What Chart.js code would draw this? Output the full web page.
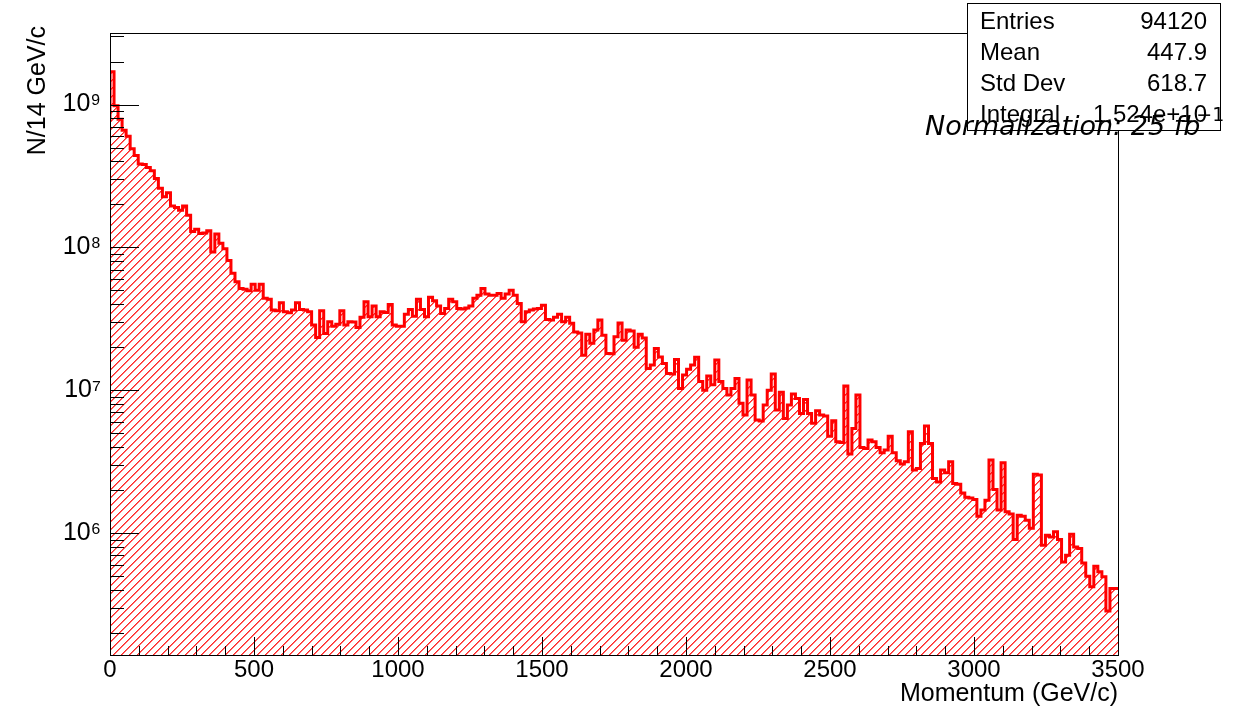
<!DOCTYPE html>
<html><head><meta charset="utf-8">
<script src="https://cdn.jsdelivr.net/npm/chart.js@4.4.0/dist/chart.umd.min.js"></script>
<style>html,body{margin:0;padding:0;background:#fff;overflow:hidden}canvas{display:block}</style>
</head><body>
<canvas id="c" width="1237" height="712"></canvas>
<script>
// ---- data ----
const binWidth = 14;          // GeV/c per bin
const xMin = 0, xMax = 3500;
const yMin = 1.4e5, yMax = 3.17e9;
const counts = [
 7.6e8,1.70e9,9.8e8,7.9e8,6.6e8,6.0e8,4.9e8,4.4e8,3.83e8,3.8e8,
 3.63e8,3.44e8,3.04e8,2.59e8,2.26e8,2.41e8,1.95e8,1.9e8,1.82e8,1.95e8,
 1.68e8,1.29e8,1.34e8,1.25e8,1.26e8,1.31e8,9.3e7,1.24e8,1.07e8,9.8e7,
 8.1e7,6.58e7,5.74e7,5.16e7,5.1e7,4.97e7,5.53e7,5.02e7,5.53e7,4.40e7,
 4.33e7,3.64e7,3.6e7,4.09e7,3.54e7,3.48e7,3.64e7,4.09e7,3.68e7,3.64e7,
 3.54e7,2.86e7,2.34e7,3.60e7,2.50e7,3.01e7,2.81e7,2.90e7,3.60e7,2.86e7,
 3.01e7,3.0e7,2.75e7,3.24e7,4.16e7,3.27e7,3.88e7,3.27e7,3.54e7,3.5e7,
 3.99e7,2.86e7,2.81e7,2.8e7,3.40e7,3.68e7,3.30e7,4.33e7,3.68e7,3.27e7,
 4.47e7,4.23e7,3.88e7,3.45e7,3.74e7,4.33e7,4.16e7,3.74e7,3.7e7,3.76e7,
 3.88e7,4.40e7,4.63e7,5.16e7,4.71e7,4.63e7,4.63e7,4.76e7,4.40e7,4.71e7,
 5.02e7,4.63e7,4.05e7,3.01e7,3.54e7,3.64e7,3.70e7,3.74e7,3.94e7,3.13e7,
 3.1e7,3.24e7,3.41e7,3.01e7,3.24e7,2.94e7,2.56e7,2.52e7,1.76e7,2.47e7,
 2.13e7,2.64e7,3.10e7,2.43e7,1.81e7,1.8e7,2.37e7,2.96e7,2.24e7,2.64e7,
 2.6e7,2.00e7,2.47e7,2.32e7,1.42e7,1.50e7,1.96e7,1.71e7,1.54e7,1.31e7,
 1.3e7,1.64e7,1.03e7,1.28e7,1.40e7,1.50e7,1.70e7,1.15e7,1.00e7,1.26e7,
 1.09e7,1.63e7,1.15e7,1.03e7,9.25e6,1.03e7,1.21e7,8.09e6,6.70e6,1.18e7,
 9.25e6,6.18e6,6.1e6,7.87e6,1.00e7,1.30e7,7.26e6,9.66e6,6.35e6,7.87e6,
 9.40e6,8.76e6,6.88e6,8.62e6,6.88e6,5.86e6,7.18e6,6.70e6,6.6e6,4.77e6,
 6.11e6,4.35e6,4.3e6,1.07e7,3.57e6,5.40e6,9.25e6,3.97e6,3.9e6,4.48e6,
 4.35e6,3.97e6,3.65e6,3.81e6,4.77e6,3.65e6,3.21e6,3.04e6,3.15e6,5.11e6,
 2.76e6,2.83e6,4.24e6,5.61e6,4.24e6,2.41e6,2.28e6,2.76e6,2.64e6,3.15e6,
 2.22e6,2.2e6,1.91e6,1.78e6,1.76e6,1.72e6,1.31e6,1.45e6,1.70e6,3.24e6,
 2.02e6,1.45e6,3.10e6,1.41e6,1.36e6,9.02e5,1.33e6,1.31e6,1.23e6,1.08e6,
 2.58e6,2.55e6,8.23e5,9.66e5,9.40e5,1.02e6,9.02e5,6.28e5,7.00e5,9.82e5,
 8.00e5,7.80e5,6.18e5,4.99e5,4.20e5,5.86e5,5.35e5,4.95e5,2.85e5,4.09e5
];
const xMajorStep = 500, xMinorStep = 100;
const yLabelExponents = ['⁶','⁷','⁸','⁹'];   // labels 10⁶ … 10⁹
const xTitle = 'Momentum (GeV/c)';
const yTitle = 'N/14 GeV/c';
const statsRows = [['Entries','94120'],['Mean','447.9'],['Std Dev','618.7'],['Integral','1.524e+10']];
const normText = 'Normalization: 25 fb', normSup = '−1';

// ---- build ----
const points = counts.map((c,i)=>({x: xMin + i*binWidth, y: c}));
points.push({x: xMax, y: counts[counts.length-1]});

const canvas = document.getElementById('c');
const ctx = canvas.getContext('2d');
function makeHatch(){
  const s = 8, c = document.createElement('canvas');
  c.width = s; c.height = s;
  const g = c.getContext('2d');
  g.fillStyle = '#ffffff';
  g.fillRect(0, 0, s, s);
  g.fillStyle = 'rgb(255,40,40)';
  for (let i = 0; i < s; i++) g.fillRect(i, s - 1 - i, 1, 1);
  g.fillStyle = 'rgb(255,110,110)';
  for (let i = 0; i < s; i++) g.fillRect((i + 1) % s, s - 1 - i, 1, 1);
  return ctx.createPattern(c, 'repeat');
}
const FONT = '"Liberation Sans", Arial, Helvetica, sans-serif';

const rootPlugin = {
  id: 'rootStyle',
  afterDraw(chart){
    const g = chart.ctx, a = chart.chartArea;
    const xs = chart.scales.x, ys = chart.scales.y;
    g.save();
    // frame
    g.strokeStyle = '#000'; g.lineWidth = 1;
    g.strokeRect(a.left + 0.5, a.top + 0.5, a.right - a.left, a.bottom - a.top);
    // ticks (inside)
    g.beginPath();
    xs.ticks.forEach(t=>{
      const px = Math.round(xs.getPixelForValue(t.value)) + 0.5;
      const len = (t.value % xMajorStep === 0) ? 18 : 9;
      g.moveTo(px, a.bottom); g.lineTo(px, a.bottom - len);
    });
    ys.ticks.forEach(t=>{
      const py = Math.round(ys.getPixelForValue(t.value)) + 0.5;
      const lg = Math.log10(t.value);
      const len = Math.abs(lg - Math.round(lg)) < 1e-9 ? 29 : 14;
      g.moveTo(a.left, py); g.lineTo(a.left + len, py);
    });
    g.stroke();
    // axis titles
    g.fillStyle = '#000';
    g.font = '25px ' + FONT;
    g.textAlign = 'right'; g.textBaseline = 'alphabetic';
    g.fillText(xTitle, a.right, 701);
    g.save();
    g.translate(45, 26); g.rotate(-Math.PI/2);
    g.textAlign = 'right';
    g.fillText(yTitle, 0, 0);
    g.restore();
    // stats box
    const bx = 967, by = 3, bw = 253, bh = 127;
    g.fillStyle = '#fff'; g.fillRect(bx, by, bw, bh);
    g.strokeStyle = '#000'; g.strokeRect(bx + 0.5, by + 0.5, bw, bh);
    g.fillStyle = '#000'; g.font = '24px ' + FONT; g.textBaseline = 'middle';
    statsRows.forEach((r,i)=>{
      const y = by + 19 + i*31;
      g.textAlign = 'left'; g.fillText(r[0], bx + 13, y);
      g.textAlign = 'right'; g.fillText(r[1], bx + bw - 13, y);
    });
    // normalization label
    g.textBaseline = 'alphabetic'; g.textAlign = 'left';
    g.font = 'italic 27px "DejaVu Sans", sans-serif';
    g.fillText(normText, 925, 135);
    const w = g.measureText(normText).width;
    g.font = '19px "DejaVu Sans", sans-serif';
    g.fillText(normSup, 925 + w - 4, 121);
    g.restore();
  }
};

new Chart(canvas, {
  type: 'line',
  data: { datasets: [{
    data: points,
    stepped: 'after',
    borderColor: '#ff0000',
    borderWidth: 3,
    backgroundColor: makeHatch(),
    fill: 'start',
    pointRadius: 0,
    tension: 0
  }]},
  options: {
    responsive: false, animation: false, devicePixelRatio: 1,
    layout: { padding: { top: 33, right: 119, left: 0, bottom: 0 } },
    plugins: { legend: { display: false }, tooltip: { enabled: false } },
    scales: {
      x: {
        type: 'linear', min: xMin, max: xMax,
        grid: { display: false, drawTicks: false }, border: { display: false },
        afterFit(s){ s.height = 57; },
        ticks: {
          stepSize: xMinorStep, autoSkip: false, maxRotation: 0, padding: 1,
          color: '#000', font: { family: FONT, size: 24 },
          callback: v => (v % xMajorStep === 0) ? String(v) : ''
        }
      },
      y: {
        type: 'logarithmic', min: yMin, max: yMax,
        grid: { display: false, drawTicks: false }, border: { display: false },
        afterFit(s){ s.width = 110; },
        afterBuildTicks(s){
          const t = [];
          for (let n = 5; n <= 9; n++) for (let m = 1; m <= 9; m++) {
            const v = m * Math.pow(10, n);
            if (v >= yMin && v <= yMax) t.push({ value: v, major: m === 1 });
          }
          s.ticks = t;
        },
        ticks: {
          autoSkip: false, padding: 9, color: '#000',
          font: { family: FONT, size: 25 },
          callback: v => {
            const lg = Math.log10(v);
            if (Math.abs(lg - Math.round(lg)) > 1e-9) return '';
            const e = Math.round(lg) - 6;
            return (e >= 0 && e < yLabelExponents.length) ? '10' + yLabelExponents[e] : '';
          }
        }
      }
    }
  },
  plugins: [rootPlugin]
});
</script>
</body></html>
